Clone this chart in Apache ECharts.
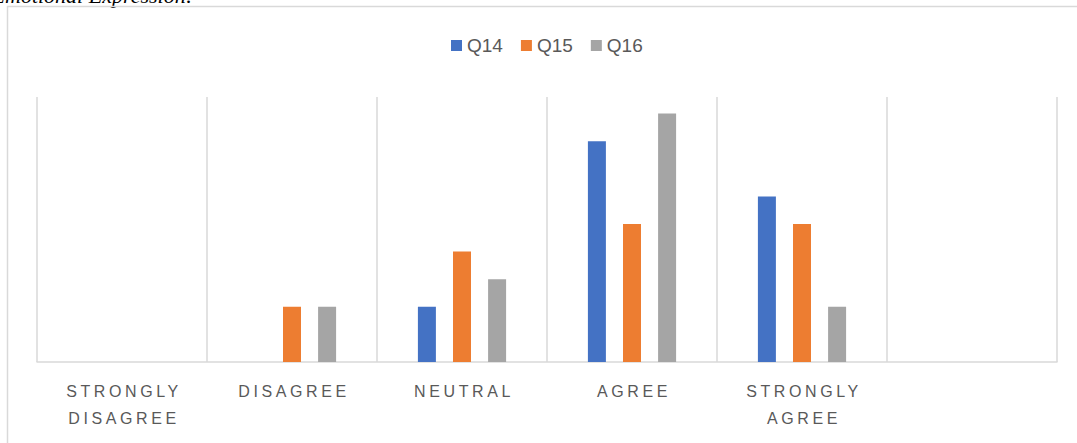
<!DOCTYPE html>
<html>
<head>
<meta charset="utf-8">
<script src="https://cdn.jsdelivr.net/npm/echarts@6/dist/echarts.min.js"></script>
<style>
  html, body { margin: 0; padding: 0; background: #fff; }
  #chart { width: 1077px; height: 443px; }
</style>
</head>
<body>
<div id="chart"></div>
<script>
  // 数据
  const categories = ['STRONGLY\nDISAGREE', 'DISAGREE', 'NEUTRAL', 'AGREE', 'STRONGLY\nAGREE', ''];
  const seriesNames = ['Q14', 'Q15', 'Q16'];
  const q14 = [0, 0, 2, 8, 6, 0];
  const q15 = [0, 2, 4, 5, 5, 0];
  const q16 = [0, 2, 3, 9, 2, 0];
  const colors = ['#4472C4', '#ED7D31', '#A5A5A5'];

  const chart = echarts.init(document.getElementById('chart'), null, { renderer: 'svg' });

  const option = {
    animation: false,
    color: colors,
    graphic: [
      {
        type: 'text',
        right: 884, top: -16,
        style: {
          text: 'Emotional Expression:',
          font: 'italic 22px "Liberation Serif"',
          fill: '#000'
        }
      },
      {
        type: 'rect',
        shape: { x: 7.5, y: 6.5, width: 1200, height: 600 },
        style: { fill: 'none', stroke: '#d9d9d9', lineWidth: 1.5 },
        silent: true
      }
    ],
    legend: {
      data: seriesNames,
      left: 446,
      top: 31,
      icon: 'rect',
      itemWidth: 11,
      itemHeight: 11,
      itemGap: 18,
      textStyle: { fontFamily: 'Liberation Sans', fontSize: 19, color: '#595959' }
    },
    grid: { left: 37, right: 20, top: 97, bottom: 81 },
    xAxis: {
      type: 'category',
      data: categories,
      axisLine: { lineStyle: { color: '#d9d9d9', width: 1.5 } },
      axisTick: { show: false },
      splitLine: { show: true, lineStyle: { color: '#d9d9d9', width: 1.5 } },
      axisLabel: {
        interval: 0,
        margin: 16,
        fontFamily: 'Liberation Sans',
        fontSize: 16,
        lineHeight: 27,
        color: '#595959'
      }
    },
    yAxis: {
      type: 'value',
      min: 0,
      max: 9.6,
      show: false,
      splitLine: { show: false }
    },
    series: [
      { name: seriesNames[0], type: 'bar', data: q14, barWidth: 18, barGap: '95%' },
      { name: seriesNames[1], type: 'bar', data: q15, barWidth: 18, barGap: '95%' },
      { name: seriesNames[2], type: 'bar', data: q16, barWidth: 18, barGap: '95%' }
    ]
  };
  chart.setOption(option);

  // 轴标签字间距
  const words = new Set();
  categories.forEach(c => c.split('\n').forEach(w => { if (w) words.add(w); }));
  document.querySelectorAll('#chart svg text').forEach(t => {
    if (words.has(t.textContent.trim())) {
      t.style.letterSpacing = '3.6px';
      t.setAttribute('dx', '2');
    }
  });
</script>
</body>
</html>
